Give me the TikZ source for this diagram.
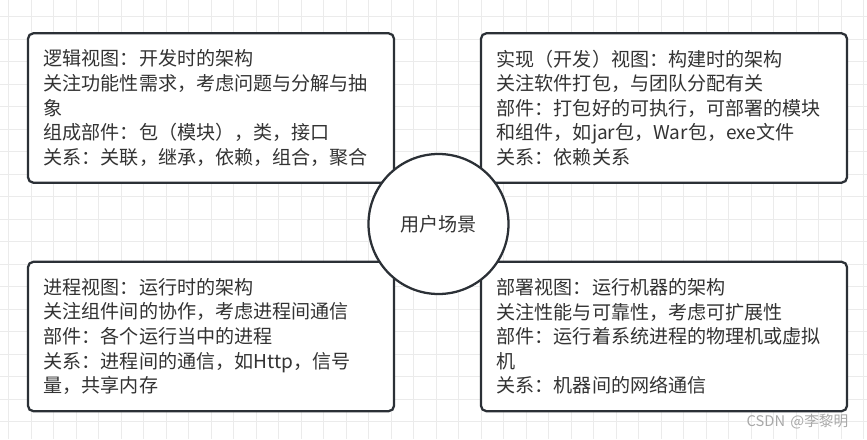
\documentclass[tikz,border=0pt]{standalone}
\usepackage{fontspec}
\setmainfont{Noto Sans CJK SC}
\definecolor{edge}{HTML}{2B3036}
\definecolor{ink}{HTML}{333333}
\definecolor{gridline}{HTML}{EBEBEB}
\definecolor{watermark}{HTML}{A8A8A8}
\tikzset{
  viewbox/.style={draw=edge, line width=1.7pt, rounded corners=4pt, fill=white,
    minimum width=274.5pt, minimum height=112pt, inner xsep=11.6pt,
    text width=251pt, align=left, text=ink,
    font=\fontsize{14.3pt}{18.4pt}\selectfont},
  scenecircle/.style={circle, draw=edge, line width=1.7pt, fill=white,
    minimum size=105pt, text=ink, font=\fontsize{14.3pt}{18.4pt}\selectfont}
}
\begin{document}
\begin{tikzpicture}[x=0.75pt, y=-0.75pt]
\useasboundingbox (0,0) rectangle (867,439);
\fill[white] (0,0) rectangle (867,439);

% Drawing the grid
\foreach \gx in {0,...,38}
  \draw[gridline, line width=0.75pt] ({8.5+22.5*\gx},0) -- ({8.5+22.5*\gx},439);
\foreach \gy in {0,...,19}
  \draw[gridline, line width=0.75pt] (0,{16.5+22.5*\gy}) -- (867,{16.5+22.5*\gy});

% Logical view
\node[viewbox] (logic) at (211,108) {逻辑视图：开发时的架构\\
  关注功能性需求，考虑问题与分解与抽\\象\\
  组成部件：包（模块），类，接口\\
  关系：关联，继承，依赖，组合，聚合};

% Implementation view
\node[viewbox] (build) at (664,108) {实现（开发）视图：构建时的架构\\
  关注软件打包，与团队分配有关\\
  部件：打包好的可执行，可部署的模块\\
  和组件，如jar包，War包，exe文件\\
  关系：依赖关系};

% Process view
\node[viewbox] (process) at (211,336.5) {进程视图：运行时的架构\\
  关注组件间的协作，考虑进程间通信\\
  部件：各个运行当中的进程\\
  关系：进程间的通信，如Http，信号\\
  量，共享内存};

% Deployment view
\node[viewbox] (deploy) at (664,336.5) {部署视图：运行机器的架构\\
  关注性能与可靠性，考虑可扩展性\\
  部件：运行着系统进程的物理机或虚拟\\机\\
  关系：机器间的网络通信};

% User scenarios
\node[scenecircle] (scene) at (438.5,224) {用户场景};

% Watermark
\node[text=watermark, font=\fontsize{11pt}{13pt}\selectfont, anchor=east] (mark) at (853,421.5) {CSDN\hspace{4pt}@李黎明};
\end{tikzpicture}
\end{document}
